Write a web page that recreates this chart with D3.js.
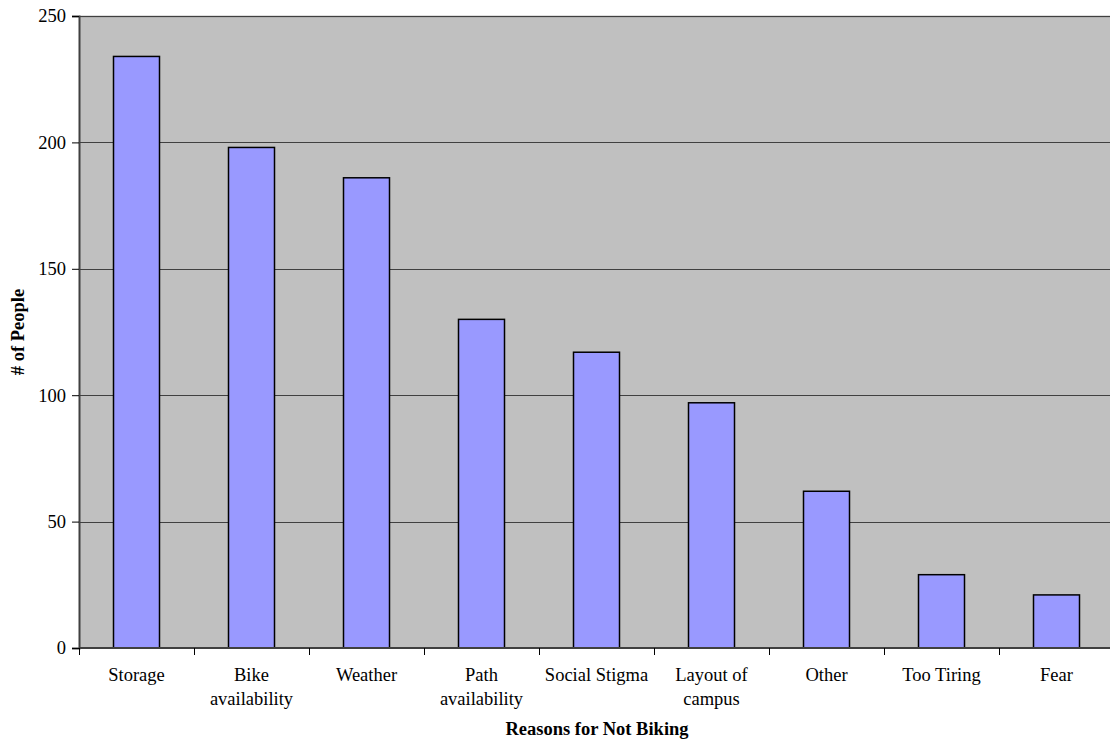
<!DOCTYPE html>
<html><head><meta charset="utf-8">
<script src="https://cdn.jsdelivr.net/npm/d3@7"></script>
<style>body{margin:0;background:#fff}svg{display:block}text{font-family:"Liberation Serif","Times New Roman",serif}</style>
</head><body><svg id="c" width="1110" height="747"></svg>
<script>
const categories = [["Storage"],["Bike","availability"],["Weather"],["Path","availability"],["Social Stigma"],["Layout of","campus"],["Other"],["Too Tiring"],["Fear"]];
const values = [234,198,186,130,117,97,62,29,21];
const yTicks = [0,50,100,150,200,250];

const svg = d3.select("#c");
const pL = 79, pT = 16, pR = 1114, pB = 648;
const keys = categories.map(d => d.join(" "));
const x = d3.scaleBand().domain(keys).range([pL, pR]).paddingInner(0).paddingOuter(0);
const y = d3.scaleLinear().domain([0,250]).range([pB, pT]);

svg.append("rect").attr("x", pL).attr("y", pT).attr("width", pR-pL).attr("height", pB-pT).attr("fill", "#c0c0c0");
svg.append("line").attr("x1", pL).attr("x2", pR).attr("y1", pT+0.5).attr("y2", pT+0.5).attr("stroke", "#808080").attr("stroke-width", 1.5);

svg.append("g").selectAll("line").data(yTicks.filter(t => t>0)).join("line")
  .attr("x1", pL).attr("x2", pR).attr("y1", d => Math.round(y(d))+0.5).attr("y2", d => Math.round(y(d))+0.5)
  .attr("stroke", "#404040").attr("stroke-width", 1);

const bw = x.bandwidth()*0.4;
svg.append("g").selectAll("rect").data(values).join("rect")
  .attr("x", (d,i) => x(keys[i]) + (x.bandwidth()-bw)/2)
  .attr("y", d => y(d)).attr("width", bw).attr("height", d => pB - y(d))
  .attr("fill", "#9999ff").attr("stroke", "#000").attr("stroke-width", 1.5);

// Y axis
const ya = svg.append("g").attr("transform", `translate(${pL},0)`).call(d3.axisLeft(y).tickValues(yTicks).tickSize(7).tickPadding(6));
ya.select(".domain").attr("stroke", "#404040").attr("stroke-width", 2);
ya.selectAll(".tick line").attr("stroke", "#000");
ya.selectAll("text").attr("font-size", 18.5).attr("fill", "#000").attr("font-family", '"Liberation Serif",serif');

// X axis
const xa = svg.append("g").attr("transform", `translate(0,${pB})`);
xa.append("line").attr("x1", pL).attr("x2", pR).attr("y1", 0).attr("y2", 0).attr("stroke", "#404040").attr("stroke-width", 2);
const bounds = keys.map(k => x(k)).concat([pR]);
xa.selectAll("line.t").data(bounds).join("line").attr("class","t")
  .attr("x1", d => Math.round(d)+0.5).attr("x2", d => Math.round(d)+0.5).attr("y1", 0).attr("y2", 7).attr("stroke", "#000");
const lab = xa.selectAll("text.l").data(categories).join("text").attr("class","l")
  .attr("text-anchor", "middle").attr("font-size", 18.5).attr("fill", "#000")
  .attr("transform", (d,i) => `translate(${x(keys[i]) + x.bandwidth()/2},0)`);
lab.selectAll("tspan").data(d => d).join("tspan").attr("x", 0).attr("y", (d,j) => 33 + j*23.5).text(d => d);

svg.append("text").attr("x", 597).attr("y", 735).attr("text-anchor","middle")
  .attr("font-size", 18.5).attr("font-weight","bold").text("Reasons for Not Biking");
svg.append("text").attr("transform", `translate(24,${(pT+pB)/2}) rotate(-90)`).attr("text-anchor","middle")
  .attr("font-size", 18.5).attr("font-weight","bold").text("# of People");
</script></body></html>
